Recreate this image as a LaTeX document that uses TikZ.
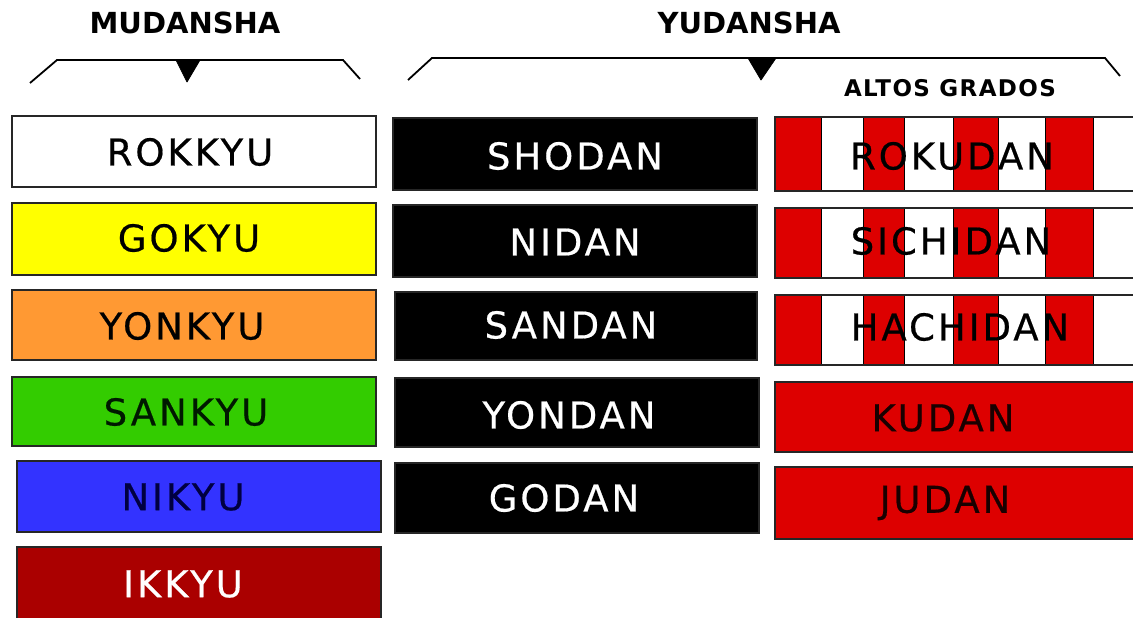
\documentclass[tikz,border=0pt]{standalone}
\usepackage{fontspec}
\setmainfont{DejaVu Sans}
\newfontfamily\hdfont{DejaVu Sans Bold}
\newfontfamily\altfont[LetterSpace=6]{DejaVu Sans Bold}
\newfontfamily\lblfont[LetterSpace=8,FakeBold=0.5]{DejaVu Sans}
\definecolor{byellow}{HTML}{FFFF00}
\definecolor{borange}{HTML}{FF9933}
\definecolor{bgreen}{HTML}{33CC00}
\definecolor{bblue}{HTML}{3333FF}
\definecolor{bdark}{HTML}{AA0000}
\definecolor{bred}{HTML}{DD0000}
\definecolor{bnavy}{HTML}{000040}
\tikzset{
  belt/.style={draw=black!85, line width=1.2pt, inner sep=0pt, minimum width=364pt},
  lbl/.style={inner sep=0pt, font=\fontsize{37}{37}\selectfont\lblfont, anchor=center},
  hdr/.style={inner sep=0pt, font=\fontsize{29}{29}\selectfont\hdfont},
  brk/.style={line width=1.8pt, line join=miter},
  tri/.style={fill=black, draw=black, line width=0.8pt, line join=round},
  stripe/.style={fill=bred, draw=black, line width=1pt}
}
\begin{document}
\begin{tikzpicture}[x=1pt,y=-1pt]
\useasboundingbox (0,0) rectangle (1133,618);
\fill[white] (0,0) rectangle (1133,618);
\begin{scope}
\clip (0,0) rectangle (1133,618);
% headers
\node[hdr] (mud) at (185,23) {MUDANSHA};
\node[hdr] (yud) at (749,23) {YUDANSHA};
\node[inner sep=0pt, font=\fontsize{23}{23}\selectfont\altfont] (altos) at (950,88) {ALTOS GRADOS};
% brackets
\coordinate (m1) at (30,83); \coordinate (m2) at (57,60);
\coordinate (m3) at (343,60); \coordinate (m4) at (360,79);
\draw[brk] (m1) -- (m2) -- (m3) -- (m4);
\coordinate (mt1) at (176,60); \coordinate (mt2) at (200,60); \coordinate (mt3) at (187,82);
\draw[tri] (mt1) -- (mt2) -- (mt3) -- cycle;
\coordinate (y1) at (408,80); \coordinate (y2) at (432,58);
\coordinate (y3) at (1105,58); \coordinate (y4) at (1120,76);
\draw[brk] (y1) -- (y2) -- (y3) -- (y4);
\coordinate (yt1) at (748,58); \coordinate (yt2) at (776,58); \coordinate (yt3) at (761,80);
\draw[tri] (yt1) -- (yt2) -- (yt3) -- cycle;
% mudansha belts
\node[belt, fill=white, minimum height=71pt] (rokkyu) at (194,151.5) {};
\node[lbl] (trokkyu) at (190,152) {ROKKYU};
\node[belt, fill=byellow, minimum height=72pt] (gokyu) at (194,239) {};
\node[lbl] (tgokyu) at (189,238) {GOKYU};
\node[belt, fill=borange, minimum height=70pt] (yonkyu) at (194,325) {};
\node[lbl] (tyonkyu) at (182,326) {YONKYU};
\node[belt, fill=bgreen, minimum height=69pt] (sankyu) at (194,411.5) {};
\node[lbl, text=black!90!green] (tsankyu) at (186,412) {SANKYU};
\node[belt, fill=bblue, minimum height=71pt] (nikyu) at (199,496.5) {};
\node[lbl, text=bnavy] (tnikyu) at (183,497) {NIKYU};
\node[belt, fill=bdark, minimum height=73pt] (ikkyu) at (199,583.5) {};
\node[lbl, text=white] (tikkyu) at (183,584) {IKKYU};
% yudansha black belts
\node[belt, fill=black, minimum height=72pt] (shodan) at (575,154) {};
\node[lbl, text=white] (tshodan) at (575,156) {SHODAN};
\node[belt, fill=black, minimum height=72pt] (nidan) at (575,241) {};
\node[lbl, text=white] (tnidan) at (575,242) {NIDAN};
\node[belt, fill=black, minimum width=362pt, minimum height=68pt] (sandan) at (576,326) {};
\node[lbl, text=white] (tsandan) at (571,325) {SANDAN};
\node[belt, fill=black, minimum height=69pt] (yondan) at (577,412.5) {};
\node[lbl, text=white] (tyondan) at (569,415) {YONDAN};
\node[belt, fill=black, minimum height=70pt] (godan) at (577,498) {};
\node[lbl, text=white] (tgodan) at (564,498) {GODAN};
% altos grados striped belts
\foreach \yt/\yb in {117/191, 208/278, 295/365}{
  \fill[white] (775,\yt) rectangle (1145,\yb);
  \foreach \xa/\xb in {775/821, 863/904, 953/998, 1045/1093}{
    \draw[stripe] (\xa,\yt) rectangle (\xb,\yb);
  }
}
\node[belt, minimum width=370pt, minimum height=74pt] (rokudan) at (960,154) {};
\node[lbl] (trokudan) at (952,156) {ROKUDAN};
\node[belt, minimum width=370pt, minimum height=70pt] (sichidan) at (960,243) {};
\node[lbl] (tsichidan) at (951,241) {SICHIDAN};
\node[belt, minimum width=370pt, minimum height=70pt] (hachidan) at (960,330) {};
\node[lbl] (thachidan) at (960,327) {HACHIDAN};
\node[belt, fill=bred, minimum width=370pt, minimum height=70pt] (kudan) at (960,417) {};
\node[lbl, text=black!90!red] (tkudan) at (943,418) {KUDAN};
\node[belt, fill=bred, minimum width=370pt, minimum height=72pt] (judan) at (960,503) {};
\node[lbl, text=black!90!red] (tjudan) at (945,503) {JUDAN};
\end{scope}
\end{tikzpicture}
\end{document}
